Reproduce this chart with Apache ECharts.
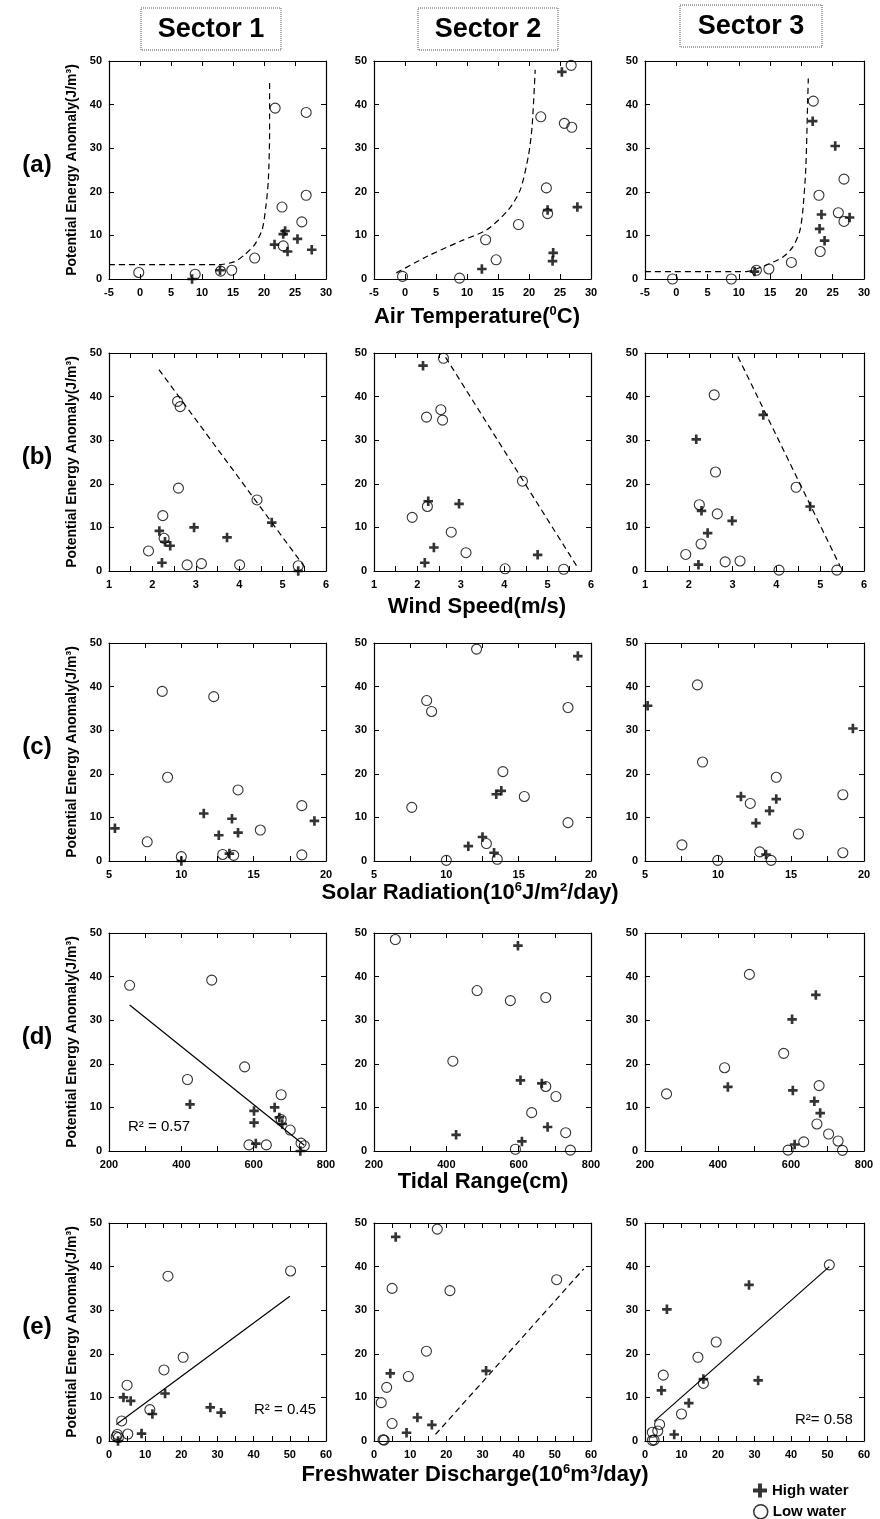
<!DOCTYPE html>
<html><head><meta charset="utf-8">
<script src="https://cdn.jsdelivr.net/npm/echarts@6/dist/echarts.min.js"></script>
<style>html,body{margin:0;padding:0;background:#fff}#c{width:880px;height:1519px}</style>
</head><body><div id="c"></div>
<script>
// ---- texts ----
const sectorTitles = ['Sector 1', 'Sector 2', 'Sector 3'];
const rowLabels = ['(a)', '(b)', '(c)', '(d)', '(e)'];
// {s|..} marks a superscript part
const xTitles = ['Air Temperature({s|0}C)', 'Wind Speed(m/s)', 'Solar Radiation(10{s|6}J/m²/day)', 'Tidal Range(cm)', 'Freshwater Discharge(10{s|6}m³/day)'];
const yTitle = 'Potential Energy Anomaly(J/m³)';
const seriesNames = ['High water', 'Low water'];
// ---- axis ranges (tick labels) ----
const xMin = [-5, 1, 5, 200, 0];
const xMax = [30, 6, 20, 800, 60];
const xStep = [5, 1, 5, 200, 10];
const yMin = 0, yMax = 50, yStep = 10;

// ---- (a) Air temperature ----
const a1_low = [[-0.2,1.5],[8.9,1.1],[13.0,1.8],[14.8,2.0],[18.5,4.8],[21.8,39.2],[22.9,16.5],[23.1,7.6],[26.1,13.1],[26.8,19.2],[26.8,38.2]];
const a1_high = [[8.4,0],[12.9,2.0],[21.7,7.9],[23.1,10.3],[23.4,11.0],[23.8,6.3],[25.4,9.2],[27.7,6.7]];
const a1_fit = [[-5,3.3],[5,3.3],[12.7,3.3],[15.3,4.0],[16.9,5.6],[18.5,7.9],[19.7,11.3],[20.3,16.6],[20.7,22.7],[20.9,33.4],[20.9,45.6]];
const a2_low = [[-0.4,0.6],[8.8,0.2],[13.0,9.0],[14.7,4.4],[18.3,12.5],[21.9,37.2],[22.8,20.9],[23.0,15.0],[25.7,35.7],[26.9,34.8],[26.8,49.0]];
const a2_high = [[12.4,2.3],[23.0,15.8],[23.9,6.0],[23.8,4.1],[25.3,47.5],[27.8,16.5]];
const a2_fit = [[-1.4,1.4],[3.6,5.2],[9.0,8.7],[13.2,11.3],[16.7,15.9],[18.6,20.5],[19.9,28.2],[20.5,35],[21.0,48]];
const a3_low = [[-0.6,0],[8.8,0],[12.8,2.0],[14.8,2.3],[18.4,3.8],[21.9,40.8],[22.8,19.2],[23.0,6.3],[25.9,15.2],[26.8,22.9],[26.8,13.2]];
const a3_high = [[12.5,1.7],[21.8,36.2],[25.4,30.5],[23.2,14.8],[22.9,11.5],[23.7,8.8],[27.7,14.1]];
const a3_fit = [[-5,1.7],[11.2,1.7],[12.8,2.3],[14.9,3.5],[17.0,5.0],[18.6,7.3],[19.7,10.8],[20.2,15.4],[20.7,25.4],[21.0,40.8],[21.1,46]];

// ---- (b) Wind speed ----
const b1_low = [[1.91,4.6],[2.24,12.7],[2.27,7.5],[2.58,38.9],[2.64,37.7],[2.60,19.0],[2.80,1.4],[3.13,1.7],[4.01,1.4],[4.41,16.3],[5.36,1.2]];
const b1_high = [[2.16,9.2],[2.22,1.9],[2.29,6.7],[2.41,5.8],[2.96,10.0],[3.72,7.7],[4.75,11.1],[5.36,0]];
const b1_fit = [[2.15,46.2],[5.5,1.0]];
const b2_low = [[1.88,12.3],[2.21,35.3],[2.23,14.8],[2.54,37.0],[2.58,34.6],[2.60,48.8],[2.78,8.9],[3.12,4.2],[4.02,0.5],[4.42,20.6],[5.37,0.4]];
const b2_high = [[2.13,47.1],[2.17,1.9],[2.25,16.0],[2.38,5.4],[2.96,15.4],[4.77,3.7]];
const b2_fit = [[2.65,49],[5.68,1]];
const b3_low = [[1.93,3.8],[2.24,15.2],[2.28,6.2],[2.58,40.4],[2.61,22.7],[2.65,13.1],[2.83,2.1],[3.17,2.3],[4.06,0.2],[4.45,19.2],[5.38,0.2]];
const b3_high = [[2.17,30.2],[2.22,1.45],[2.29,13.8],[2.43,8.7],[2.99,11.5],[3.70,35.8],[4.77,14.8]];
const b3_fit = [[3.12,49.2],[5.45,1.2]];

// ---- (c) Solar radiation ----
const c1_low = [[7.64,4.4],[8.68,38.9],[9.05,19.2],[10.0,1.0],[12.24,37.7],[12.86,1.5],[13.62,1.3],[13.92,16.3],[15.46,7.1],[18.33,12.7],[18.33,1.4]];
const c1_high = [[5.41,7.5],[10.0,0],[11.55,10.9],[12.59,5.9],[13.32,1.7],[13.5,9.7],[13.92,6.5],[19.2,9.2]];
const c2_low = [[7.61,12.3],[8.64,36.8],[8.98,34.3],[10.0,0.15],[12.09,48.6],[12.77,4.0],[13.52,0.4],[13.91,20.5],[15.39,14.8],[18.41,35.2],[18.41,8.8]];
const c2_high = [[11.52,3.4],[12.5,5.5],[13.3,1.9],[13.45,15.3],[13.8,16.1],[19.09,47.0]];
const c3_low = [[7.53,3.7],[8.59,40.4],[8.94,22.7],[9.98,0.15],[12.21,13.2],[12.86,2.1],[13.64,0.15],[13.99,19.2],[15.51,6.2],[18.55,15.2],[18.55,1.9]];
const c3_high = [[5.18,35.6],[11.57,14.8],[12.6,8.7],[13.29,1.5],[13.53,11.5],[13.99,14.2],[19.24,30.4]];

// ---- (d) Tidal range ----
const d1_low = [[257,38.0],[417,16.4],[484,39.2],[575,19.3],[587,1.4],[635,1.4],[676,12.9],[676,7.2],[701,4.8],[731,1.8],[740,1.2]];
const d1_high = [[424,10.7],[601,9.2],[601,6.5],[606,1.7],[658,10.0],[671,7.7],[679,6.2],[729,0]];
const d1_fit = [[257,33.5],[740,1.3]];
const d2_low = [[259,48.5],[418,20.6],[485,36.8],[577,34.5],[591,0.4],[636,8.8],[675,35.2],[675,14.8],[703,12.5],[730,4.2],[743,0.2]];
const d2_high = [[427,3.7],[598,47.1],[605,16.2],[609,2.2],[664,15.5],[680,5.5]];
const d3_low = [[259,13.1],[418,19.1],[486,40.5],[580,22.4],[592,0.2],[635,2.1],[671,6.2],[677,15.0],[703,3.9],[729,2.3],[741,0.15]];
const d3_high = [[427,14.7],[603,30.2],[605,13.9],[610,1.5],[664,11.4],[680,8.7],[668,35.8]];

// ---- (e) Freshwater discharge ----
const e1_low = [[50.2,39.0],[16.3,37.8],[20.5,19.2],[15.2,16.3],[5.0,12.8],[11.3,7.2],[3.5,4.6],[5.2,1.6],[2.3,1.5],[2.0,1.0],[2.6,0.8]];
const e1_high = [[15.5,10.9],[4.0,10.0],[6.0,9.2],[28.0,7.7],[31.0,6.5],[12.0,6.2],[9.0,1.7],[2.5,0]];
const e1_fit = [[2,3.8],[50,33.2]];
const e2_low = [[17.5,48.6],[50.5,37.0],[5.0,35.0],[21.0,34.5],[14.5,20.6],[9.5,14.8],[3.5,12.3],[2.0,8.8],[5.0,4.0],[2.5,0.3],[2.8,0.2]];
const e2_high = [[6.0,46.8],[4.5,15.5],[31.0,16.1],[12.0,5.4],[16.0,3.7],[9.0,1.9]];
const e2_fit = [[17,1.5],[58,39.5]];
const e3_low = [[50.5,40.4],[19.5,22.7],[14.5,19.2],[5.0,15.1],[16.0,13.2],[10.0,6.2],[4.0,3.8],[3.5,2.3],[2.0,2.0],[2.5,0.2],[2.0,0.15]];
const e3_high = [[6.0,30.2],[28.5,35.8],[16.0,14.2],[31.0,13.9],[4.5,11.6],[12.0,8.7],[8.0,1.5]];
const e3_fit = [[2.5,4.5],[50.5,40.0]];
const r2Labels = ['R² = 0.57', 'R² = 0.45', 'R²= 0.58'];

// ---- panel table ----
const panels = [
  [a1_low,a1_high,a1_fit,'dashed'],[a2_low,a2_high,a2_fit,'dashed'],[a3_low,a3_high,a3_fit,'dashed'],
  [b1_low,b1_high,b1_fit,'dashed'],[b2_low,b2_high,b2_fit,'dashed'],[b3_low,b3_high,b3_fit,'dashed'],
  [c1_low,c1_high,null,null],[c2_low,c2_high,null,null],[c3_low,c3_high,null,null],
  [d1_low,d1_high,d1_fit,'solid'],[d2_low,d2_high,null,null],[d3_low,d3_high,null,null],
  [e1_low,e1_high,e1_fit,'solid'],[e2_low,e2_high,e2_fit,'dashed'],[e3_low,e3_high,e3_fit,'solid']
];

const FONT = '"Liberation Sans", Arial, Helvetica, sans-serif';
const PLUS = 'path://M3.6,0H6.4V3.6H10V6.4H6.4V10H3.6V6.4H0V3.6H3.6Z';
const colLeft = [109, 374, 645], colWidth = [217, 217, 219];
const rowTop = [61, 353, 643, 933, 1223], rowH = 218;
const minorRows = [false, true, true, true, true];

const grids = [], xB = [], xT = [], yL = [], yR = [], series = [];
const axLine = {onZero: false, lineStyle: {color: '#000', width: 1.2}};
const tick = {inside: true, length: 5, lineStyle: {color: '#000', width: 1}};
const lab = {color: '#000', fontSize: 11, fontWeight: 'bold', fontFamily: FONT};

for (let r = 0; r < 5; r++) {
  for (let c = 0; c < 3; c++) {
    const i = r * 3 + c;
    grids.push({left: colLeft[c], top: rowTop[r], width: colWidth[c], height: rowH});
    const common = {gridIndex: i, type: 'value', min: xMin[r], max: xMax[r], interval: xStep[r],
      axisLine: axLine, axisTick: tick,
      minorTick: {show: minorRows[r], splitNumber: 2, length: 5, lineStyle: {color: '#000'}},
      splitLine: {show: false}, minorSplitLine: {show: false}};
    xB.push(Object.assign({}, common, {position: 'bottom', axisLabel: Object.assign({margin: 8}, lab)}));
    xT.push(Object.assign({}, common, {position: 'top', axisLabel: {show: false}}));
    const yc = {gridIndex: i, type: 'value', min: yMin, max: yMax, interval: yStep,
      axisLine: axLine, axisTick: tick, splitLine: {show: false}};
    yL.push(Object.assign({}, yc, {position: 'left', axisLabel: Object.assign({margin: 7}, lab),
      name: c === 0 ? yTitle : '', nameLocation: 'middle', nameGap: 30, nameRotate: 90,
      nameTextStyle: {fontSize: 14, fontWeight: 'bold', fontFamily: FONT, color: '#000'}}));
    yR.push(Object.assign({}, yc, {position: 'right', axisLabel: {show: false}}));
    const p = panels[i];
    if (p[2]) {
      series.push({type: 'line', xAxisIndex: i, yAxisIndex: i, data: p[2], showSymbol: false,
        smooth: r === 0 ? 0.25 : false, silent: true, z: 1,
        lineStyle: {color: '#000', width: 1.2, type: p[3] === 'dashed' ? [6, 4] : 'solid'}});
    }
    series.push({name: seriesNames[1], type: 'scatter', xAxisIndex: i, yAxisIndex: i, data: p[0],
      symbol: 'circle', symbolSize: 10, z: 2,
      itemStyle: {color: 'rgba(255,255,255,0)', borderColor: '#000', borderWidth: 1.1}});
    series.push({name: seriesNames[0], type: 'scatter', xAxisIndex: i, yAxisIndex: i, data: p[1],
      symbol: PLUS, symbolSize: 9.5, z: 3, itemStyle: {color: '#000'}});
  }
}

const graphic = [];
const sectorBox = [[141, 8, 140, 42], [418, 8, 140, 42], [680, 5, 142, 42]];
sectorTitles.forEach((t, k) => {
  const b = sectorBox[k];
  graphic.push({type: 'rect', shape: {x: b[0], y: b[1], width: b[2], height: b[3]},
    style: {fill: 'none', stroke: '#555', lineWidth: 1, lineDash: [1, 1]}});
  graphic.push({type: 'text', x: b[0] + b[2] / 2, y: b[1] + b[3] / 2 + 1,
    style: {text: t, font: 'bold 27px ' + FONT, fill: '#000', textAlign: 'center', textVerticalAlign: 'middle', verticalAlign: 'middle'}});
});
rowLabels.forEach((t, r) => {
  graphic.push({type: 'text', x: 37, y: rowTop[r] + rowH / 2 - 5,
    style: {text: t, font: 'bold 24px ' + FONT, fill: '#000', textAlign: 'center', textVerticalAlign: 'middle', verticalAlign: 'middle'}});
});
const xTitlePos = [[477, 317], [477, 607], [470, 893], [483, 1182], [475, 1475]];
xTitles.forEach((t, r) => {
  graphic.push({type: 'text', x: xTitlePos[r][0], y: xTitlePos[r][1],
    style: {text: t, fontSize: 22, fontWeight: 'bold', fontFamily: FONT, fill: '#000',
      textAlign: 'center', textVerticalAlign: 'middle', verticalAlign: 'middle', lineHeight: 24,
      rich: {s: {fontSize: 13, fontWeight: 'bold', fontFamily: FONT, fill: '#000', verticalAlign: 'top', lineHeight: 24, padding: [0, 0, 9, 0]}}}});
});
const r2Pos = [[128, 1127], [254, 1410], [795, 1420]];
r2Labels.forEach((t, k) => {
  graphic.push({type: 'text', x: r2Pos[k][0], y: r2Pos[k][1],
    style: {text: t, font: '15px ' + FONT, fill: '#000', textAlign: 'left', textVerticalAlign: 'middle', verticalAlign: 'middle'}});
});

const legendText = {fontSize: 15, fontWeight: 'bold', fontFamily: FONT, color: '#000'};
const chart = echarts.init(document.getElementById('c'), null, {renderer: 'canvas'});
chart.setOption({
  animation: false,
  backgroundColor: '#fff',
  grid: grids,
  xAxis: xB.concat(xT),
  yAxis: yL.concat(yR),
  series: series,
  graphic: graphic,
  legend: [
    {left: 748, top: 1478, itemWidth: 14, itemHeight: 14, textStyle: legendText,
      data: [{name: seriesNames[0], icon: PLUS, itemStyle: {color: '#000'}}]},
    {left: 748, top: 1499, itemWidth: 14, itemHeight: 14, textStyle: legendText,
      data: [{name: seriesNames[1], icon: 'circle', itemStyle: {color: 'rgba(255,255,255,0)', borderColor: '#000', borderWidth: 1.5}}]}
  ]
});
</script></body></html>
